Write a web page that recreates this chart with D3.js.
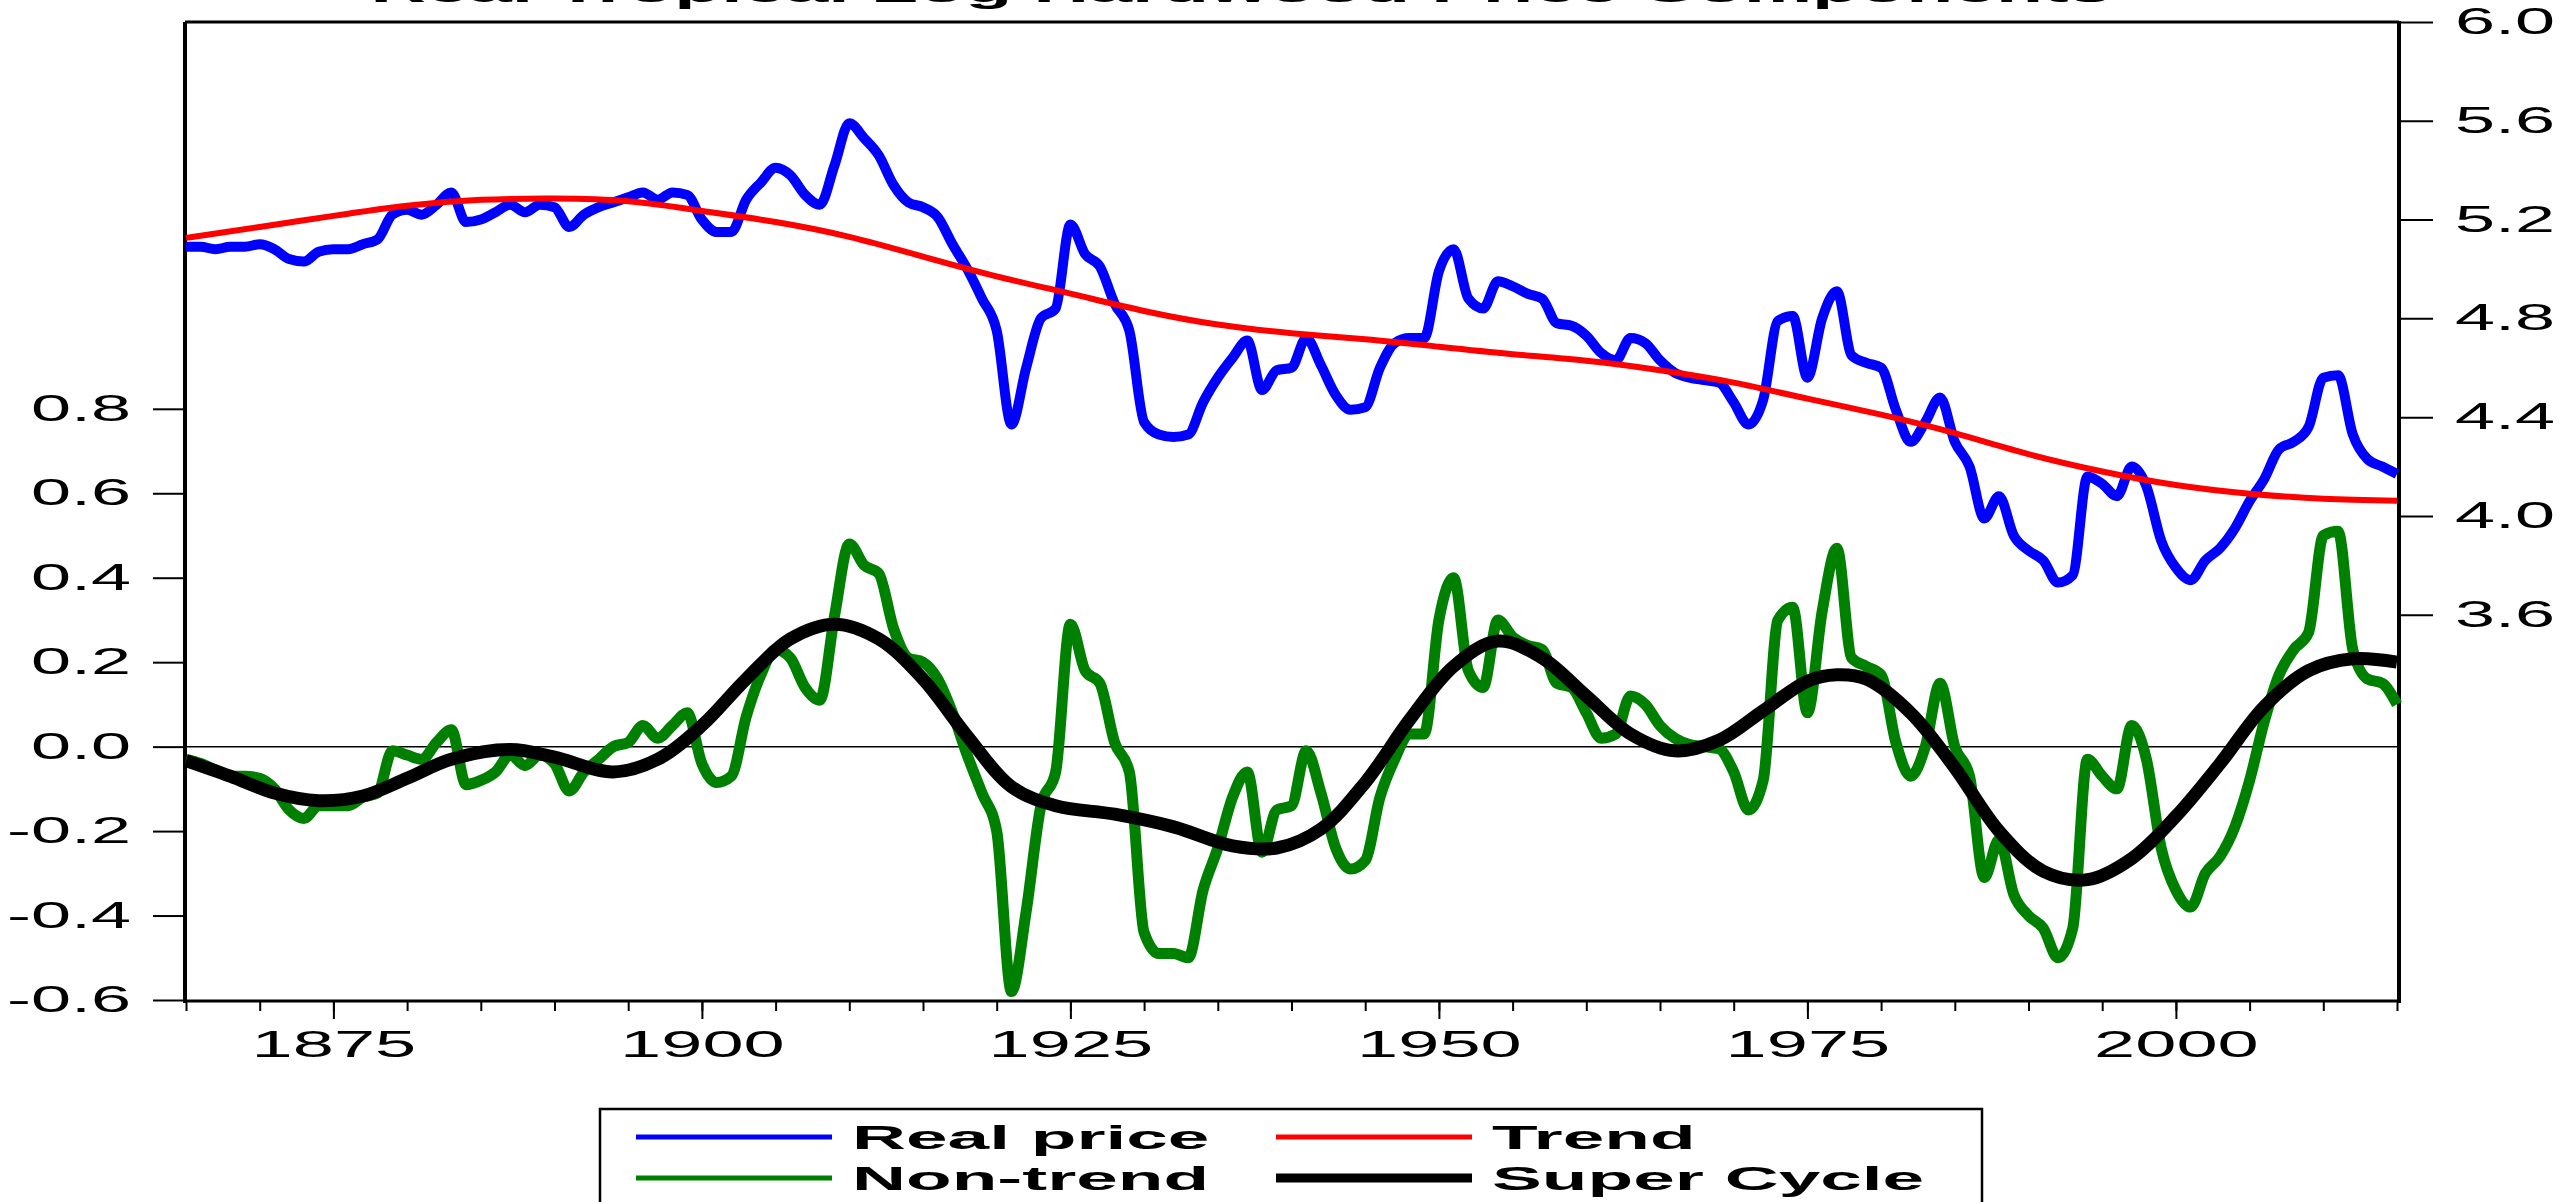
<!DOCTYPE html>
<html>
<head>
<meta charset="utf-8">
<script src="https://cdn.jsdelivr.net/npm/d3@7"></script>
<style>
body { margin: 0; background: #fff; }
svg { display: block; font-family: "Liberation Sans", Arial, sans-serif; }
</style>
</head>
<body>
<svg width="2560" height="1202"></svg>
<script>
// Data
var years = d3.range(1865, 2016);

var realPrice = [
  5.09, 5.09, 5.08, 5.09, 5.09, 5.10, 5.08, 5.04, 5.03, 5.07,   // 1865-1874
  5.08, 5.08, 5.10, 5.12, 5.22, 5.24, 5.22, 5.26, 5.31, 5.19,   // 1875-1884
  5.20, 5.23, 5.26, 5.23, 5.26, 5.25, 5.17, 5.22, 5.25, 5.27,   // 1885-1894
  5.29, 5.31, 5.28, 5.31, 5.30, 5.20, 5.15, 5.15, 5.28, 5.35,   // 1895-1904
  5.41, 5.38, 5.30, 5.26, 5.42, 5.59, 5.53, 5.46, 5.34, 5.27,   // 1905-1914
  5.25, 5.21, 5.10, 5.00, 4.88, 4.75, 4.37, 4.60, 4.80, 4.84,   // 1915-1924
  5.18, 5.06, 5.01, 4.86, 4.75, 4.38, 4.33, 4.32, 4.33, 4.46,   // 1925-1934
  4.56, 4.64, 4.71, 4.51, 4.59, 4.60, 4.72, 4.61, 4.49, 4.43,   // 1935-1944
  4.44, 4.60, 4.70, 4.72, 4.72, 4.99, 5.08, 4.88, 4.84, 4.95,   // 1945-1954
  4.93, 4.90, 4.88, 4.78, 4.77, 4.73, 4.66, 4.63, 4.72, 4.70,   // 1955-1964
  4.63, 4.58, 4.56, 4.55, 4.54, 4.46, 4.37, 4.47, 4.79, 4.81,   // 1965-1974
  4.56, 4.80, 4.91, 4.65, 4.62, 4.60, 4.43, 4.30, 4.38, 4.48,   // 1975-1984
  4.30, 4.20, 3.99, 4.08, 3.92, 3.86, 3.82, 3.73, 3.76, 4.16,   // 1985-1994
  4.13, 4.08, 4.20, 4.12, 3.90, 3.79, 3.74, 3.82, 3.87, 3.95,   // 1995-2004
  4.06, 4.15, 4.27, 4.30, 4.36, 4.56, 4.57, 4.33, 4.23, 4.20,   // 2005-2014
  4.17                                                          // 2015
];

var nonTrend = [
  -0.03, -0.04, -0.055, -0.07, -0.07, -0.075, -0.10, -0.15, -0.17, -0.14,
  -0.14, -0.14, -0.12, -0.11, -0.01, -0.02, -0.03, 0.01, 0.04, -0.09,
  -0.08, -0.06, -0.02, -0.045, -0.02, -0.04, -0.105, -0.06, -0.03, 0.00,
  0.01, 0.05, 0.02, 0.05, 0.08, -0.04, -0.085, -0.07, 0.07, 0.17,
  0.23, 0.21, 0.14, 0.11, 0.31, 0.48, 0.43, 0.41, 0.28, 0.21,
  0.20, 0.16, 0.08, -0.02, -0.11, -0.20, -0.58, -0.39, -0.14, -0.06,
  0.29, 0.18, 0.15, 0.01, -0.06, -0.44, -0.49, -0.49, -0.50, -0.34,
  -0.24, -0.12, -0.06, -0.25, -0.15, -0.14, -0.01, -0.11, -0.24, -0.29,
  -0.27, -0.12, -0.03, 0.03, 0.03, 0.30, 0.40, 0.18, 0.14, 0.30,
  0.26, 0.24, 0.23, 0.15, 0.14, 0.08, 0.02, 0.03, 0.12, 0.10,
  0.05, 0.02, 0.005, 0.00, -0.005, -0.06, -0.15, -0.08, 0.30, 0.33,
  0.08, 0.32, 0.47, 0.21, 0.19, 0.17, 0.01, -0.07, 0.00, 0.15,
  0.00, -0.07, -0.31, -0.22, -0.35, -0.40, -0.43, -0.50, -0.43, -0.03,
  -0.07, -0.10, 0.05, -0.03, -0.24, -0.34, -0.38, -0.30, -0.26, -0.19,
  -0.08, 0.06, 0.17, 0.23, 0.27, 0.50, 0.51, 0.23, 0.16, 0.15,
  0.10
];

var trendYears = [1865, 1870, 1875, 1880, 1885, 1890, 1895, 1900, 1905, 1910,
                  1915, 1920, 1925, 1930, 1935, 1940, 1945, 1950, 1955, 1960,
                  1965, 1970, 1975, 1980, 1985, 1990, 1995, 2000, 2005, 2010, 2015];
var trend = [5.126, 5.17, 5.215, 5.256, 5.28, 5.285, 5.274, 5.235, 5.19, 5.13,
             5.05, 4.97, 4.90, 4.83, 4.775, 4.74, 4.715, 4.685, 4.655, 4.628,
             4.59, 4.54, 4.475, 4.41, 4.335, 4.25, 4.18, 4.125, 4.09, 4.07, 4.062];

var cycleYears = [1865, 1868, 1871, 1874, 1877, 1880, 1883, 1887, 1890, 1894,
                  1897, 1900, 1903, 1906, 1909, 1912, 1915, 1918, 1921, 1924,
                  1928, 1932, 1936, 1939, 1942, 1945, 1948, 1951, 1954, 1957,
                  1960, 1963, 1966, 1969, 1972, 1975, 1977, 1979, 1982, 1985,
                  1988, 1991, 1994, 1997, 2000, 2003, 2006, 2009, 2012, 2015];
var superCycle = [-0.033, -0.07, -0.11, -0.128, -0.117, -0.075, -0.03, -0.007, -0.025, -0.06,
                  -0.03, 0.05, 0.16, 0.255, 0.29, 0.255, 0.16, 0.025, -0.095, -0.14,
                  -0.16, -0.19, -0.235, -0.24, -0.195, -0.085, 0.063, 0.19, 0.25, 0.21,
                  0.12, 0.03, -0.01, 0.015, 0.085, 0.155, 0.17, 0.16, 0.08, -0.05,
                  -0.2, -0.295, -0.315, -0.265, -0.165, -0.04, 0.095, 0.18, 0.208, 0.2];

var leftTicks = [-0.6, -0.4, -0.2, 0.0, 0.2, 0.4, 0.6, 0.8];
var rightTicks = [3.6, 4.0, 4.4, 4.8, 5.2, 5.6, 6.0];
var yearLabels = [1875, 1900, 1925, 1950, 1975, 2000];
var yearMinor = d3.range(1865, 2016, 5);

var seriesNames = ["Real price", "Trend", "Non-trend", "Super Cycle"];
var seriesColors = ["#0000ff", "#ff0000", "#008000", "#000000"];
var title = "Real Tropical Log Hardwood Price Components";

// Layout (window.top is read-only, so plot edges get their own names)
var plotLeft = 186, plotRight = 2397, plotTop = 22, plotBottom = 1000;
var K = 2.2;    // the exported text is stretched sideways
var KA = 2.0;   // tick labels: a bit taller, same width

var svg = d3.select("svg");

var x = d3.scaleLinear().domain([1865, 2015]).range([plotLeft, plotRight]);
var yL = d3.scaleLinear().domain([-0.6, 1.716]).range([plotBottom, plotTop]);
var yR = d3.scaleLinear().domain([2.04, 6.0]).range([plotBottom, plotTop]);

function widen(sel, k) {
  sel.each(function() {
    var t = d3.select(this);
    var x0 = +t.attr("x") || 0;
    t.attr("x", x0 / k).attr("transform", "scale(" + k + ",1)");
  });
}

var fmt = function(d) { return d3.format(".1f")(d).replace("\u2212", "-"); };

// Title (mostly cut off at the top)
svg.append("text")
    .attr("x", 1241)
    .attr("y", 2)
    .attr("text-anchor", "middle")
    .attr("font-size", 35)
    .attr("font-weight", "bold")
    .text(title)
    .call(widen, K);

// Left axis
var gl = svg.append("g")
    .attr("transform", "translate(185,0)")
    .call(d3.axisLeft(yL).tickValues(leftTicks).tickSize(32).tickPadding(22)
      .tickSizeOuter(0).tickFormat(fmt));
gl.select(".domain").remove();
gl.selectAll("line").attr("stroke-width", 2);
gl.selectAll("text").attr("font-size", 36).call(widen, KA);
gl.attr("font-family", null).attr("font-size", null);

// Right axis
var gr = svg.append("g")
    .attr("transform", "translate(2399,0)")
    .call(d3.axisRight(yR).tickValues(rightTicks).tickSize(34).tickPadding(22)
      .tickSizeOuter(0).tickFormat(fmt));
gr.select(".domain").remove();
gr.selectAll("line").attr("stroke-width", 2);
gr.selectAll("text").attr("font-size", 36).call(widen, KA);
gr.attr("font-family", null).attr("font-size", null);

// Bottom axis, minor then major ticks
var gm = svg.append("g")
    .attr("transform", "translate(0,1001)")
    .call(d3.axisBottom(x).tickValues(yearMinor).tickSize(10).tickFormat(""));
gm.select(".domain").remove();
gm.selectAll("line").attr("stroke-width", 2);

var gb = svg.append("g")
    .attr("transform", "translate(0,1001)")
    .call(d3.axisBottom(x).tickValues(yearLabels).tickSize(18).tickPadding(12)
      .tickFormat(d3.format("d")));
gb.select(".domain").remove();
gb.selectAll("line").attr("stroke-width", 2);
gb.selectAll("text").attr("font-size", 37).call(widen, KA);
gb.attr("font-family", null).attr("font-size", null);

// Frame
svg.append("line").attr("x1", 185).attr("x2", 185).attr("y1", plotTop).attr("y2", 1003)
    .attr("stroke", "#000").attr("stroke-width", 4);
svg.append("line").attr("x1", 2399).attr("x2", 2399).attr("y1", plotTop - 1).attr("y2", 1003)
    .attr("stroke", "#000").attr("stroke-width", 4);
svg.append("line").attr("x1", 185).attr("x2", 2399).attr("y1", plotTop).attr("y2", plotTop)
    .attr("stroke", "#000").attr("stroke-width", 3);
svg.append("line").attr("x1", 185).attr("x2", 2399).attr("y1", 1001).attr("y2", 1001)
    .attr("stroke", "#000").attr("stroke-width", 3);

// Zero line
svg.append("line").attr("x1", 185).attr("x2", 2399).attr("y1", yL(0)).attr("y2", yL(0))
    .attr("stroke", "#000").attr("stroke-width", 1.5);

// Series
var annualR = d3.line().x((d, i) => x(years[i])).y(d => yR(d)).curve(d3.curveMonotoneX);
var annualL = d3.line().x((d, i) => x(years[i])).y(d => yL(d)).curve(d3.curveMonotoneX);
var trendLine = d3.line().x((d, i) => x(trendYears[i])).y(d => yR(d)).curve(d3.curveNatural);
var cycleLine = d3.line().x((d, i) => x(cycleYears[i])).y(d => yL(d)).curve(d3.curveCatmullRom.alpha(0.5));

var plots = [
  {data: realPrice, gen: annualR, color: seriesColors[0], w: 10},
  {data: trend, gen: trendLine, color: seriesColors[1], w: 6},
  {data: nonTrend, gen: annualL, color: seriesColors[2], w: 11},
  {data: superCycle, gen: cycleLine, color: seriesColors[3], w: 13}
];

svg.selectAll("path.series")
    .data(plots)
    .enter()
    .append("path")
    .attr("class", "series")
    .attr("d", d => d.gen(d.data))
    .attr("fill", "none")
    .attr("stroke", d => d.color)
    .attr("stroke-width", d => d.w)
    .attr("stroke-linejoin", "round");

// Legend
var legend = svg.append("g");
legend.append("rect")
    .attr("x", 600).attr("y", 1109).attr("width", 1382).attr("height", 130)
    .attr("fill", "none").attr("stroke", "#000").attr("stroke-width", 2.5);

var legendW = [5, 5, 5, 9];
var colLine = [636, 1276], colText = [852, 1492];
var rowLine = [1137, 1178], rowText = [1149, 1190];

var items = legend.selectAll("g.item")
    .data(seriesNames)
    .enter()
    .append("g")
    .attr("class", "item");

items.append("line")
    .attr("x1", (d, i) => colLine[i % 2])
    .attr("x2", (d, i) => colLine[i % 2] + 196)
    .attr("y1", (d, i) => rowLine[Math.floor(i / 2)])
    .attr("y2", (d, i) => rowLine[Math.floor(i / 2)])
    .attr("stroke", (d, i) => seriesColors[i])
    .attr("stroke-width", (d, i) => legendW[i]);

items.append("text")
    .attr("x", (d, i) => colText[i % 2])
    .attr("y", (d, i) => rowText[Math.floor(i / 2)])
    .attr("font-size", 34)
    .attr("font-weight", "bold")
    .text(d => d)
    .call(widen, K);
</script>
</body>
</html>
